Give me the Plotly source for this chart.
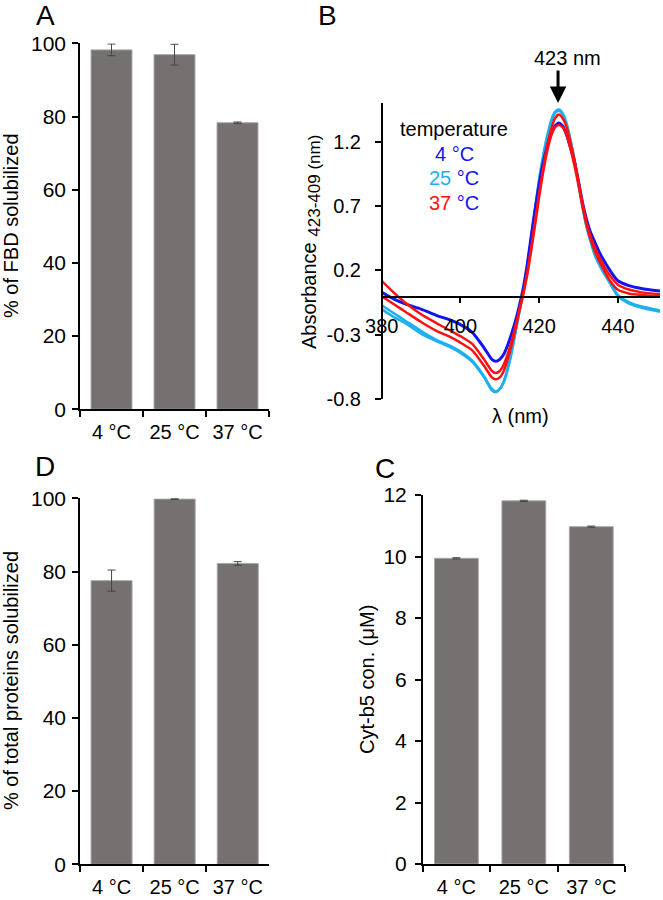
import plotly.graph_objects as go

FONT = "Liberation Sans, Arial, sans-serif"

# ---------------- data ----------------
temps = ["4 °C", "25 °C", "37 °C"]

fbd_sol = [98.2, 96.9, 78.3]          # panel A
fbd_err = [1.6, 2.85, 0.2]

tot_sol = [77.5, 99.8, 82.2]          # panel D
tot_err = [2.9, 0.1, 0.5]

cyt_conc = [9.94, 11.81, 10.97]       # panel C
cyt_err = [0.02, 0.02, 0.02]

wavelength = [380, 383, 386, 390, 394, 397, 400, 403, 406, 408,
              409, 410, 411, 412, 413, 414, 415, 416, 417, 418,
              419, 420, 421, 422, 423, 424, 425, 426, 427, 428,
              429, 430, 431, 432, 433, 434, 435, 436, 438, 440,
              443, 446, 450.7]

abs_4c = [0.03, -0.02, -0.06, -0.10, -0.15, -0.18, -0.22, -0.28, -0.40, -0.49,
          -0.505, -0.49, -0.45, -0.38, -0.29, -0.19, -0.07, 0.07, 0.25, 0.47,
          0.68, 0.87, 1.03, 1.16, 1.26, 1.32, 1.345, 1.32, 1.25, 1.15,
          1.04, 0.89, 0.73, 0.60, 0.50, 0.43, 0.36, 0.30, 0.20, 0.12,
          0.08, 0.06, 0.04]

abs_25c_a = [-0.07, -0.13, -0.19, -0.27, -0.34, -0.38, -0.43, -0.50, -0.62, -0.72,
             -0.74, -0.72, -0.66, -0.56, -0.43, -0.27, -0.11, 0.05, 0.24, 0.46,
             0.69, 0.91, 1.09, 1.24, 1.36, 1.43, 1.45, 1.42, 1.34, 1.21,
             1.06, 0.88, 0.70, 0.55, 0.44, 0.34, 0.27, 0.21, 0.11, 0.01,
             -0.05, -0.08, -0.11]

abs_25c_b = [-0.10, -0.16, -0.21, -0.29, -0.35, -0.39, -0.44, -0.51, -0.63, -0.73,
             -0.745, -0.72, -0.67, -0.57, -0.44, -0.28, -0.12, 0.04, 0.23, 0.45,
             0.68, 0.90, 1.08, 1.23, 1.35, 1.42, 1.44, 1.41, 1.33, 1.20,
             1.05, 0.87, 0.69, 0.54, 0.43, 0.33, 0.26, 0.20, 0.10, 0.00,
             -0.06, -0.09, -0.12]

abs_37c_a = [0.12, 0.03, -0.05, -0.14, -0.21, -0.26, -0.31, -0.37, -0.49, -0.58,
             -0.595, -0.58, -0.53, -0.45, -0.35, -0.23, -0.10, 0.03, 0.19, 0.38,
             0.59, 0.80, 0.99, 1.16, 1.29, 1.38, 1.41, 1.38, 1.31, 1.19,
             1.05, 0.89, 0.72, 0.58, 0.47, 0.39, 0.32, 0.26, 0.16, 0.09,
             0.05, 0.03, 0.015]

abs_37c_b = [0.00, -0.06, -0.12, -0.20, -0.27, -0.31, -0.36, -0.42, -0.54, -0.63,
             -0.645, -0.63, -0.58, -0.49, -0.38, -0.25, -0.11, 0.02, 0.17, 0.36,
             0.56, 0.77, 0.96, 1.12, 1.24, 1.31, 1.33, 1.31, 1.25, 1.14,
             1.01, 0.86, 0.70, 0.56, 0.45, 0.36, 0.29, 0.23, 0.12, 0.05,
             0.02, 0.01, 0.00]

b_yticks = [-0.8, -0.3, 0.2, 0.7, 1.2]
b_xticks = [380, 400, 420, 440]

# ---------------- styling ----------------
W, H = 663, 900
BAR_COLOR = "#757171"
BAR_EDGE = "#aaa6a6"
ERR_COLOR = "#454545"
BLUE = "#1414f0"
LBLUE = "#1cb0ee"
RED = "#ff1010"


def px(x):
    return x / W


def py(y):
    return 1 - y / H


axis_common = dict(
    showline=True, linecolor="black", linewidth=1.5,
    ticks="outside", ticklen=6, tickwidth=1.5, tickcolor="black",
    showgrid=False, zeroline=False, automargin=False,
    tickfont=dict(family=FONT, size=20, color="black"),
)

fig = go.Figure()


def add_bars(vals, errs, xa, ya):
    fig.add_trace(go.Bar(
        x=temps, y=vals, xaxis=xa, yaxis=ya,
        marker=dict(color=BAR_COLOR, line=dict(color=BAR_EDGE, width=1)),
        error_y=dict(type="data", array=errs, color=ERR_COLOR, thickness=1, width=4),
        cliponaxis=False, showlegend=False, hoverinfo="skip",
    ))


add_bars(fbd_sol, fbd_err, "x", "y")
add_bars(tot_sol, tot_err, "x3", "y3")
add_bars(cyt_conc, cyt_err, "x4", "y4")

spectra = [
    (abs_25c_a, LBLUE, 2.5),
    (abs_25c_b, LBLUE, 2.5),
    (abs_4c, BLUE, 3),
    (abs_37c_b, RED, 2.5),
    (abs_37c_a, RED, 2.5),
]
for ys, col, wdt in spectra:
    fig.add_trace(go.Scatter(
        x=wavelength, y=ys, xaxis="x2", yaxis="y2", mode="lines",
        line=dict(color=col, width=wdt, shape="spline", smoothing=0.6),
        showlegend=False, hoverinfo="skip",
    ))

bar_x = dict(axis_common, type="category", tickson="boundaries", ticklabelstandoff=4)
ytick_font = dict(family=FONT, size=21, color="black")

fig.update_layout(
    template="none",
    width=W, height=H,
    margin=dict(l=0, r=0, t=0, b=0, pad=0),
    paper_bgcolor="white", plot_bgcolor="white",
    font=dict(family=FONT, color="black"),
    bargap=0.35,
    # panel A
    xaxis=dict(bar_x, domain=[px(80), px(269)], anchor="y"),
    yaxis=dict(axis_common, domain=[py(409.3), py(43.3)], range=[0, 100],
               tickvals=[0, 20, 40, 60, 80, 100], anchor="x", ticklabelstandoff=2,
               tickfont=ytick_font),
    # panel B
    xaxis2=dict(axis_common, domain=[px(381.7), px(660)], range=[380, 450.7],
                tickvals=b_xticks, anchor="free", position=py(296.7),
                ticklabelstandoff=6),
    yaxis2=dict(axis_common, domain=[py(399.3), py(103)], range=[-0.8, 1.5],
                tickvals=b_yticks, ticktext=["-0.8", "-0.3", "0.2", "0.7", "1.2"],
                anchor="free", position=px(381.7), ticklabelstandoff=10),
    # panel D
    xaxis3=dict(bar_x, domain=[px(80), px(269.3)], anchor="y3"),
    yaxis3=dict(axis_common, domain=[py(864.3), py(498.3)], range=[0, 100],
                tickvals=[0, 20, 40, 60, 80, 100], anchor="x3", ticklabelstandoff=2,
                tickfont=ytick_font),
    # panel C
    xaxis4=dict(bar_x, domain=[px(422.7), px(625)], anchor="y4"),
    yaxis4=dict(axis_common, domain=[py(864), py(495)], range=[0, 12],
                tickvals=[0, 2, 4, 6, 8, 10, 12], anchor="x4", ticklabelstandoff=4,
                tickfont=ytick_font),
)

ann = []


def text(x, y, t, size=20, angle=0, color="black"):
    ann.append(dict(x=px(x), y=py(y), xref="paper", yref="paper", text=t,
                    showarrow=False, textangle=angle, xanchor="center", yanchor="middle",
                    font=dict(family=FONT, size=size, color=color)))


# panel letters
text(45, 15, "A", 28)
text(327, 15, "B", 28)
text(45, 467, "D", 28)
text(385, 468, "C", 28)

# axis titles
text(11, 226, "% of FBD solubilized", 20, -90)
text(11, 681, "% of total proteins solubilized", 20, -90)
text(367, 680, "Cyt-b5 con. (μM)", 20, -90)
text(311, 242, "Absorbance <sub><span style='font-size:17px'>423-409 (nm)</span></sub>", 20, -90)
text(520, 416, "λ (nm)", 20)

# legend of panel B
text(454, 129, "temperature", 20)
text(454, 154, "4 °C", 20, color=BLUE)
text(454, 178, f"<span style='color:{LBLUE}'>25</span> °C", 20, color=BLUE)
text(454, 203, f"<span style='color:{RED}'>37</span> °C", 20, color=BLUE)

# peak label + arrow
text(567, 58, "423 nm", 20)
ann.append(dict(x=424.8, y=1.5, xref="x2", yref="y2", text="", showarrow=True,
                ax=0, ay=-34, arrowhead=2, arrowsize=1.1, arrowwidth=3,
                arrowcolor="black", standoff=0))

fig.update_layout(annotations=ann)

fig.write_html(
    "out.html",
    config={"displayModeBar": False},
    post_script="document.body.style.margin='0';"
                "document.documentElement.style.overflow='hidden';",
)
